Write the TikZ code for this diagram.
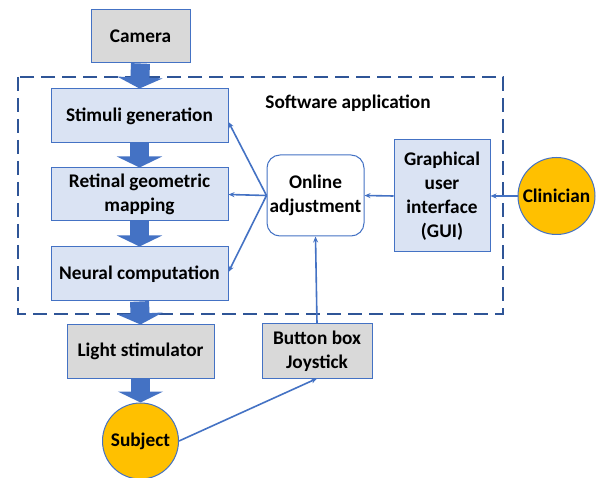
\documentclass[tikz,border=0pt]{standalone}
\usepackage{fontspec}
\setmainfont{Carlito}
\usetikzlibrary{arrows.meta}
\definecolor{boxblue}{HTML}{DAE3F3}
\definecolor{edgeblue}{HTML}{4472C4}
\definecolor{boxgray}{HTML}{D9D9D9}
\definecolor{sungold}{HTML}{FFC000}
\definecolor{dashblue}{HTML}{2F5597}
\begin{document}
\begin{tikzpicture}[
    x=1pt, y=-1pt,
    every node/.style={
    font=\fontsize{19.3}{24}\selectfont\bfseries, align=center, inner sep=0pt},
    stage/.style={draw=edgeblue, line width=1pt, fill=boxblue},
    device/.style={draw=edgeblue, line width=1pt, fill=boxgray},
    person/.style={circle, draw=edgeblue, line width=1pt, fill=sungold},
    bigarrow/.style={draw=edgeblue, line width=19pt,
        -{Triangle[width=45pt, length=11pt]}},
    thinarrow/.style={draw=edgeblue, line width=1.6pt,
        -{Stealth[length=6pt, width=5pt]}}]
    \def\blockarrow#1#2{\draw[bigarrow] (#1.south) -- (#2.north);}

    \useasboundingbox (0,0) rectangle (597,478);
    \fill[white] (0,0) rectangle (597,478);

    % software application frame
    \draw[dashblue, line width=2pt, dash pattern=on 14pt off 7pt]
        (18,77) rectangle (503,314);
    \node (swlabel) at (348,103) {Software application};

    \node[device, minimum width=99pt, minimum height=53pt] (camera) at (140.5,36.5) {Camera};
    \node[stage, minimum width=177pt, minimum height=54pt] (stimuli) at (139.5,116) {Stimuli generation};
    \node[stage, minimum width=177pt, minimum height=53pt] (retinal) at (139.5,194.5) {Retinal geometric\\mapping};
    \node[stage, minimum width=177pt, minimum height=54pt] (neural) at (139.5,274) {Neural computation};
    \node[device, minimum width=147pt, minimum height=53pt] (light) at (140.5,351.5) {Light stimulator};
    \node[person, minimum size=76pt] (subject) at (140.5,441) {Subject};
    \node[device, minimum width=110pt, minimum height=54pt] (button) at (317,351) {Button box\\Joystick};
    \node[draw=edgeblue, line width=1pt, fill=white, rounded corners=13pt,
        minimum width=97pt, minimum height=81pt] (online) at (315.5,195.5) {Online\\adjustment};
    \node[stage, minimum width=96pt, minimum height=112pt] (gui) at (442,196) {Graphical\\user\\interface\\(GUI)};
    \node[person, minimum size=77pt] (clinician) at (556.5,196) {Clinician};

    % main pipeline
    \blockarrow{camera}{stimuli}
    \blockarrow{stimuli}{retinal}
    \blockarrow{retinal}{neural}
    \blockarrow{neural}{light}
    \blockarrow{light}{subject}

    % feedback paths
    \draw[thinarrow] (online.west) -- ([yshift=-6pt]stimuli.east);
    \draw[thinarrow] (online.west) -- (retinal.east);
    \draw[thinarrow] (online.west) -- ([yshift=2pt]neural.east);
    \draw[thinarrow] (gui.west) -- (online.east);
    \draw[thinarrow] (clinician.west) -- (gui.east);
    \draw[thinarrow] (button.north) -- (online.south);
    \draw[thinarrow] (subject.east) -- (button.south);
\end{tikzpicture}
\end{document}
